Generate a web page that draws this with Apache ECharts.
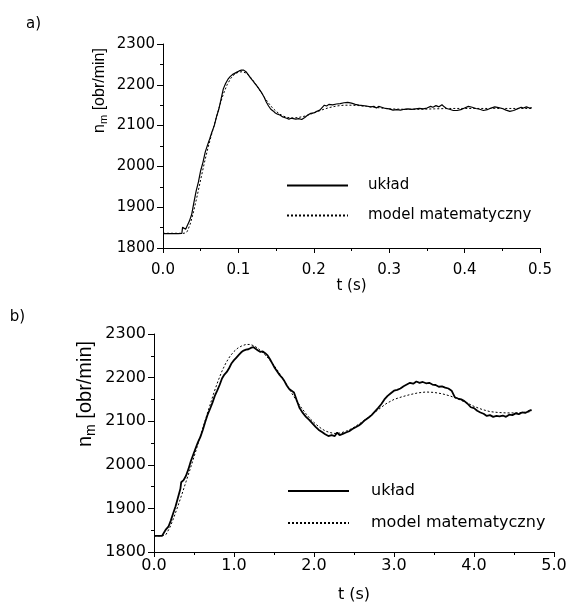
<!DOCTYPE html>
<html>
<head>
<meta charset="utf-8">
<script src="https://cdn.jsdelivr.net/npm/echarts@6/dist/echarts.min.js"></script>
<style>html,body{margin:0;padding:0;background:#fff}#c{width:568px;height:602px}</style>
</head>
<body>
<div id="c"></div>
<script>
// ---- data: panel a) ----
const topUkladT = [0.000,0.010,0.020,0.025,0.026,0.028,0.030,0.032,0.035,0.038,0.041,0.044,0.047,0.050,0.053,0.056,0.059,0.062,0.065,0.068,0.071,0.074,0.077,0.080,0.083,0.086,0.089,0.092,0.095,0.098,0.101,0.104,0.107,0.110,0.113,0.116,0.119,0.122,0.125,0.128,0.131,0.134,0.137,0.140,0.143,0.146,0.149,0.152,0.155,0.158,0.161,0.164,0.167,0.170,0.173,0.176,0.180,0.184,0.188,0.192,0.196,0.200,0.204,0.208,0.211,0.214,0.217,0.220,0.225,0.230,0.235,0.240,0.245,0.250,0.255,0.260,0.265,0.270,0.275,0.280,0.283,0.286,0.290,0.295,0.300,0.305,0.310,0.315,0.320,0.325,0.330,0.335,0.340,0.345,0.350,0.355,0.358,0.362,0.366,0.370,0.373,0.376,0.380,0.385,0.390,0.395,0.400,0.405,0.410,0.415,0.420,0.425,0.430,0.435,0.440,0.445,0.450,0.455,0.460,0.465,0.470,0.475,0.478,0.482,0.486,0.489];
const topUkladV = [1835,1835,1835,1836,1851,1849,1846,1850,1866,1882,1912,1940,1962,1990,2010,2035,2052,2068,2085,2100,2122,2140,2165,2190,2203,2213,2220,2225,2228,2231,2234,2236,2236,2232,2225,2217,2210,2203,2196,2188,2180,2170,2158,2148,2140,2136,2131,2128,2126,2122,2120,2118,2116,2118,2117,2116,2117,2115,2120,2126,2130,2131,2135,2138,2144,2150,2148,2152,2151,2153,2154,2156,2157,2155,2152,2150,2149,2148,2146,2147,2143,2147,2145,2142,2141,2138,2139,2138,2140,2141,2140,2141,2142,2141,2143,2147,2145,2149,2146,2151,2146,2142,2140,2137,2137,2139,2143,2147,2145,2142,2140,2137,2139,2143,2146,2144,2142,2138,2135,2137,2141,2145,2143,2146,2143,2144];
const topModelT = [0.000,0.020,0.028,0.032,0.036,0.040,0.045,0.050,0.055,0.060,0.065,0.070,0.075,0.080,0.085,0.090,0.095,0.100,0.105,0.110,0.115,0.120,0.125,0.130,0.135,0.140,0.145,0.150,0.155,0.160,0.165,0.170,0.175,0.180,0.190,0.200,0.210,0.220,0.230,0.240,0.250,0.260,0.270,0.280,0.290,0.300,0.320,0.340,0.360,0.380,0.400,0.420,0.440,0.460,0.480,0.489];
const topModelV = [1836,1836,1836,1840,1858,1885,1925,1968,2010,2048,2082,2115,2148,2177,2200,2216,2226,2231,2232,2229,2221,2209,2196,2182,2168,2155,2144,2135,2128,2123,2120,2119,2119,2120,2124,2131,2138,2144,2148,2150,2150,2149,2147,2145,2143,2141,2140,2140,2141,2142,2142,2142,2142,2142,2142,2142];
const topXTicks = [0.0,0.1,0.2,0.3,0.4,0.5];

// ---- data: panel b) ----
const botUkladT = [0.00,0.05,0.10,0.12,0.15,0.18,0.21,0.24,0.27,0.30,0.33,0.34,0.37,0.40,0.43,0.46,0.49,0.52,0.55,0.58,0.61,0.64,0.67,0.70,0.73,0.76,0.79,0.82,0.85,0.88,0.91,0.94,0.97,1.00,1.03,1.06,1.09,1.12,1.15,1.18,1.21,1.24,1.27,1.30,1.33,1.36,1.39,1.42,1.45,1.48,1.51,1.54,1.57,1.60,1.63,1.66,1.69,1.72,1.75,1.78,1.80,1.82,1.86,1.90,1.94,1.98,2.02,2.06,2.10,2.14,2.18,2.22,2.26,2.29,2.32,2.36,2.40,2.44,2.48,2.52,2.56,2.60,2.64,2.68,2.72,2.76,2.80,2.84,2.88,2.92,2.96,3.00,3.04,3.08,3.12,3.16,3.20,3.24,3.28,3.32,3.36,3.40,3.44,3.48,3.52,3.56,3.60,3.64,3.68,3.72,3.76,3.80,3.84,3.88,3.92,3.96,4.00,4.04,4.08,4.12,4.16,4.20,4.24,4.28,4.32,4.36,4.40,4.44,4.48,4.52,4.56,4.60,4.64,4.68,4.72];
const botUkladV = [1837,1837,1837,1840,1852,1858,1872,1889,1905,1925,1945,1960,1965,1975,1990,2008,2023,2038,2052,2064,2080,2098,2115,2128,2142,2158,2170,2183,2198,2207,2213,2222,2233,2240,2246,2252,2258,2262,2264,2265,2268,2270,2266,2262,2259,2260,2256,2251,2242,2232,2222,2214,2206,2200,2192,2182,2174,2170,2166,2150,2140,2130,2119,2110,2103,2095,2087,2080,2075,2070,2066,2068,2066,2074,2068,2071,2074,2077,2082,2086,2090,2096,2103,2108,2114,2122,2130,2139,2150,2158,2164,2170,2172,2175,2180,2184,2188,2186,2191,2188,2190,2187,2188,2184,2183,2179,2180,2177,2175,2170,2155,2152,2150,2146,2140,2132,2130,2124,2120,2117,2112,2114,2110,2112,2111,2113,2110,2115,2114,2118,2116,2120,2119,2123,2126];
const botModelT = [0.00,0.10,0.15,0.20,0.25,0.30,0.35,0.40,0.45,0.50,0.55,0.60,0.65,0.70,0.75,0.80,0.85,0.90,0.95,1.00,1.05,1.10,1.15,1.20,1.25,1.30,1.35,1.40,1.45,1.50,1.55,1.60,1.65,1.70,1.75,1.80,1.85,1.90,1.95,2.00,2.05,2.10,2.15,2.20,2.25,2.30,2.35,2.40,2.45,2.50,2.55,2.60,2.65,2.70,2.80,2.90,3.00,3.10,3.20,3.30,3.40,3.50,3.60,3.70,3.80,3.90,4.00,4.10,4.20,4.30,4.40,4.50,4.60,4.72];
const botModelV = [1837,1837,1840,1857,1880,1906,1933,1961,1989,2018,2048,2078,2108,2137,2166,2192,2215,2234,2249,2260,2268,2273,2276,2276,2273,2267,2259,2250,2240,2228,2215,2201,2186,2171,2156,2142,2129,2117,2106,2097,2089,2082,2077,2074,2072,2072,2074,2077,2081,2086,2092,2098,2105,2112,2126,2140,2150,2156,2161,2165,2167,2166,2163,2158,2151,2143,2134,2127,2122,2120,2119,2119,2120,2122];
const botXTicks = [0.0,1.0,2.0,3.0,4.0,5.0];

const yTicks = [1800,1900,2000,2100,2200,2300];
const seriesNames = ['układ','model matematyczny'];
const panelLabels = ['a)','b)'];
const yAxisTitle = ['n','m','[obr/min]'];
const xAxisTitle = 't (s)';

const zip = (a,b) => a.map((v,i)=>[v,b[i]]);
const TF = 'DejaVu Sans';
const AF = 'Liberation Sans';

function xAx(idx, ticks, fs, margin, gap, tickLen){
  return {
    type:'value', gridIndex: idx, min: ticks[0], max: ticks[ticks.length-1], interval: ticks[1]-ticks[0],
    name: xAxisTitle, nameLocation:'middle', nameGap: gap,
    nameTextStyle:{fontFamily:TF, fontSize:fs, color:'#000'},
    axisLine:{show:true, onZero:false, lineStyle:{color:'#000', width:1}},
    axisTick:{show:true, inside:false, length:tickLen, lineStyle:{color:'#000'}},
    minorTick:{show:true, splitNumber:2, length:3, lineStyle:{color:'#000'}},
    splitLine:{show:false},
    axisLabel:{fontFamily:TF, fontSize:fs, color:'#000', margin: margin, formatter: v => v.toFixed(1)}
  };
}
function yAx(idx, fs){
  return {
    type:'value', gridIndex: idx, min: yTicks[0], max: yTicks[yTicks.length-1], interval: yTicks[1]-yTicks[0],
    axisLine:{show:true, onZero:false, lineStyle:{color:'#000', width:1}},
    axisTick:{show:true, inside:false, length:6, lineStyle:{color:'#000'}},
    minorTick:{show:true, splitNumber:2, length:3, lineStyle:{color:'#000'}},
    splitLine:{show:false},
    axisLabel:{fontFamily:TF, fontSize:fs, color:'#000', margin:8, formatter: v => String(v)}
  };
}
function yTitle(id, x, y, fs){
  const wN = fs*0.556, wM = fs*0.7*0.833, sp = fs*0.278;
  const st = (t, f) => ({text:t, fontSize:f, fontFamily:AF, fill:'#000', align:'left', verticalAlign:'middle'});
  return {type:'group', id:id, x:x, y:y, rotation: Math.PI/2, children:[
    {type:'text', id:id+'n', x:0, y:0, style: st(yAxisTitle[0], fs)},
    {type:'text', id:id+'m', x:wN, y:fs*0.28, style: st(yAxisTitle[1], Math.round(fs*0.7))},
    {type:'text', id:id+'u', x:wN+wM+sp, y:0, style: st(yAxisTitle[2], fs)}
  ]};
}
function legend(left, top, fs, gap, pad){
  return {
    orient:'vertical', left:left, top:top, padding:0, itemWidth:61, itemHeight:14, itemGap:gap,
    selectedMode:false, data: seriesNames,
    itemStyle:{opacity:0},
    textStyle:{fontFamily:TF, fontSize:fs, color:'#000', padding:[0,0,0,pad]}
  };
}
const lineS = (name, x, y, data, w, dashed) => ({
  type:'line', name:name, xAxisIndex:x, yAxisIndex:y, data:data, showSymbol:false, symbol:'none',
  smooth:false, lineStyle:{color:'#000', width:w, type: dashed ? [2,2] : 'solid'},
  itemStyle:{color:'#000'}, z: dashed ? 3 : 2
});

const chart = echarts.init(document.getElementById('c'), null, {renderer:'canvas'});
chart.setOption({
  animation:false,
  backgroundColor:'#fff',
  grid:[
    {left:163, right:28, top:44, height:204, outerBoundsMode:'none', containLabel:false},
    {left:154, right:14, top:334, height:218, outerBoundsMode:'none', containLabel:false}
  ],
  xAxis:[ xAx(0, topXTicks, 15, 15, 26, 5), xAx(1, botXTicks, 16, 6, 35, 5) ],
  yAxis:[ yAx(0, 15), yAx(1, 16) ],
  legend:[ legend(286, 178, 15, 15, 15), legend(287, 483, 16, 16, 17) ],
  series:[
    lineS(seriesNames[0], 0, 0, zip(topUkladT, topUkladV), 1.2, false),
    lineS(seriesNames[1], 0, 0, zip(topModelT, topModelV), 1, true),
    lineS(seriesNames[0], 1, 1, zip(botUkladT, botUkladV), 1.8, false),
    lineS(seriesNames[1], 1, 1, zip(botModelT, botModelV), 1, true)
  ],
  graphic:[
    {type:'text', id:'pa', x:33.5, y:24, style:{text:panelLabels[0], fontSize:15, fontFamily:TF, fill:'#000', align:'center', verticalAlign:'middle'}},
    {type:'text', id:'pb', x:17.5, y:317, style:{text:panelLabels[1], fontSize:15, fontFamily:TF, fill:'#000', align:'center', verticalAlign:'middle'}},
    yTitle('ya', 99.5, 133, 16),
    yTitle('yb', 85.5, 447, 20)
  ]
});
</script>
</body>
</html>
